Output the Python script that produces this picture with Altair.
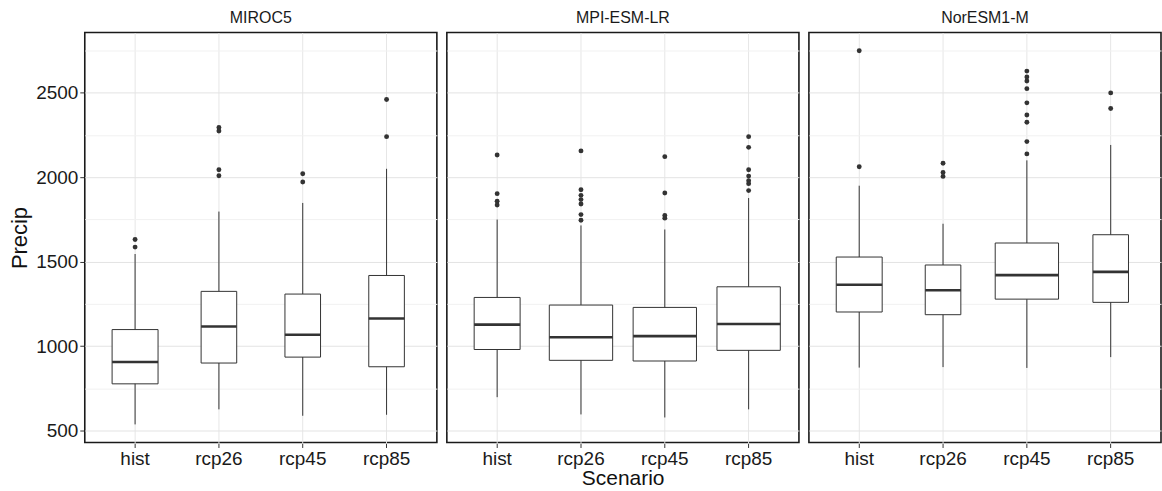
import altair as alt
import pandas as pd

models = ["MIROC5", "MPI-ESM-LR", "NorESM1-M"]
scenarios = ["hist", "rcp26", "rcp45", "rcp85"]

# box statistics, ordered model by model, scenario by scenario
whisker_low = [537, 626, 588, 594,
               698, 596, 578, 626,
               873, 876, 871, 935]
q1 = [777, 900, 935, 878,
      980, 916, 912, 975,
      1202, 1186, 1278, 1259]
median = [906, 1116, 1067, 1163,
          1127, 1053, 1059, 1131,
          1363, 1331, 1420, 1439]
q3 = [1098, 1324, 1308, 1418,
      1288, 1243, 1229, 1351,
      1527, 1480, 1610, 1659]
whisker_high = [1545, 1796, 1847, 2049,
                1749, 1714, 1690, 1876,
                1949, 1724, 2099, 2190]
n_years = [50, 30, 30, 30,
           50, 95, 95, 95,
           50, 30, 95, 30]
outliers = [
    [1631, 1586], [2294, 2273, 2043, 2008], [2020, 1971], [2459, 2239],
    [2131, 1902, 1857, 1835], [2155, 1925, 1892, 1867, 1841, 1778, 1745],
    [2121, 1906, 1773, 1757], [2239, 2176, 2043, 2006, 1978, 1961, 1920],
    [2747, 2061], [2082, 2027, 2004],
    [2627, 2592, 2568, 2523, 2439, 2367, 2324, 2210, 2137], [2498, 2406],
]

y_ticks = [500, 750, 1000, 1250, 1500, 1750, 2000, 2250, 2500, 2750]

rows = []
for i, m in enumerate(models):
    for j, s in enumerate(scenarios):
        k = i * 4 + j
        rows.append(dict(kind="box", model=m, scenario=s, lower=whisker_low[k],
                         q1=q1[k], median=median[k], q3=q3[k],
                         upper=whisker_high[k], n=n_years[k]))
        for v in outliers[k]:
            rows.append(dict(kind="out", model=m, scenario=s, value=v))
df = pd.DataFrame(rows)

FONT = "Liberation Sans"
INK = "#333333"

x = alt.X("scenario:N", sort=scenarios,
          scale=alt.Scale(paddingInner=0, paddingOuter=0.1),
          axis=alt.Axis(title=None, labelAngle=0, labelFontSize=19,
                        labelColor="#1a1a1a", labelFont=FONT, tickSize=4,
                        tickColor=INK, domain=False, bandPosition=0.5,
                        grid=True, gridColor="#e6e6e6", gridWidth=1,
                        labelPadding=2))

yscale = alt.Scale(domain=[430, 2855], nice=False, zero=False)
yaxis = alt.Axis(title="Precip", values=y_ticks, format="d",
                 labelExpr="datum.value % 500 === 0 ? datum.label : ''",
                 labelFontSize=19, labelColor="#1a1a1a", labelFont=FONT,
                 titleFontSize=22, titleFont=FONT, titleFontWeight="normal",
                 titleColor="#111", titlePadding=4, labelPadding=2,
                 tickSize=4,
                 tickColor=alt.condition("datum.value % 500 === 0",
                                         alt.value(INK), alt.value("transparent")),
                 gridColor=alt.condition("datum.value % 500 === 0",
                                         alt.value("#e3e3e3"), alt.value("#f1f1f1")),
                 gridWidth=1, domain=False)

size = alt.Size("n:Q", scale=alt.Scale(type="sqrt", domain=[0, 95], range=[0, 63.5]),
                legend=None)

base = alt.Chart()

whisk = base.mark_rule(color=INK, strokeWidth=1).encode(
    x=x,
    y=alt.Y("lower:Q", scale=yscale, axis=yaxis, title="Precip"),
    y2="upper:Q",
).transform_filter("datum.kind === 'box'")

box = base.mark_bar(fill="white", stroke=INK, strokeWidth=1).encode(
    x=x,
    y=alt.Y("q1:Q", scale=yscale, axis=yaxis, title="Precip"),
    y2="q3:Q",
    size=size,
).transform_filter("datum.kind === 'box'")

med = base.mark_tick(color=INK, thickness=2.6, opacity=1).encode(
    x=x,
    y=alt.Y("median:Q", scale=yscale, axis=yaxis, title="Precip"),
    size=size,
).transform_filter("datum.kind === 'box'")

pts = base.mark_circle(color=INK, size=24, opacity=1).encode(
    x=x,
    y=alt.Y("value:Q", scale=yscale, axis=yaxis, title="Precip"),
).transform_filter("datum.kind === 'out'")

panel = alt.layer(whisk, box, med, pts).properties(width=353, height=411)

chart = panel.facet(
    column=alt.Column("model:N", sort=models,
                      header=alt.Header(title=None, labelFontSize=16,
                                        labelFont=FONT, labelColor="#1a1a1a",
                                        labelPadding=6)),
    data=df,
    spacing=8,
).properties(
    title=alt.TitleParams("Scenario", orient="bottom", anchor="middle",
                          fontSize=21, font=FONT, fontWeight="normal",
                          color="#111", offset=0, dx=38),
    padding={"left": 8, "top": 9, "right": 0, "bottom": 0},
    background="white",
).configure_view(stroke="#1a1a1a", strokeWidth=1.6)

chart.save("out.html", embed_options={"renderer": "svg", "actions": False})
